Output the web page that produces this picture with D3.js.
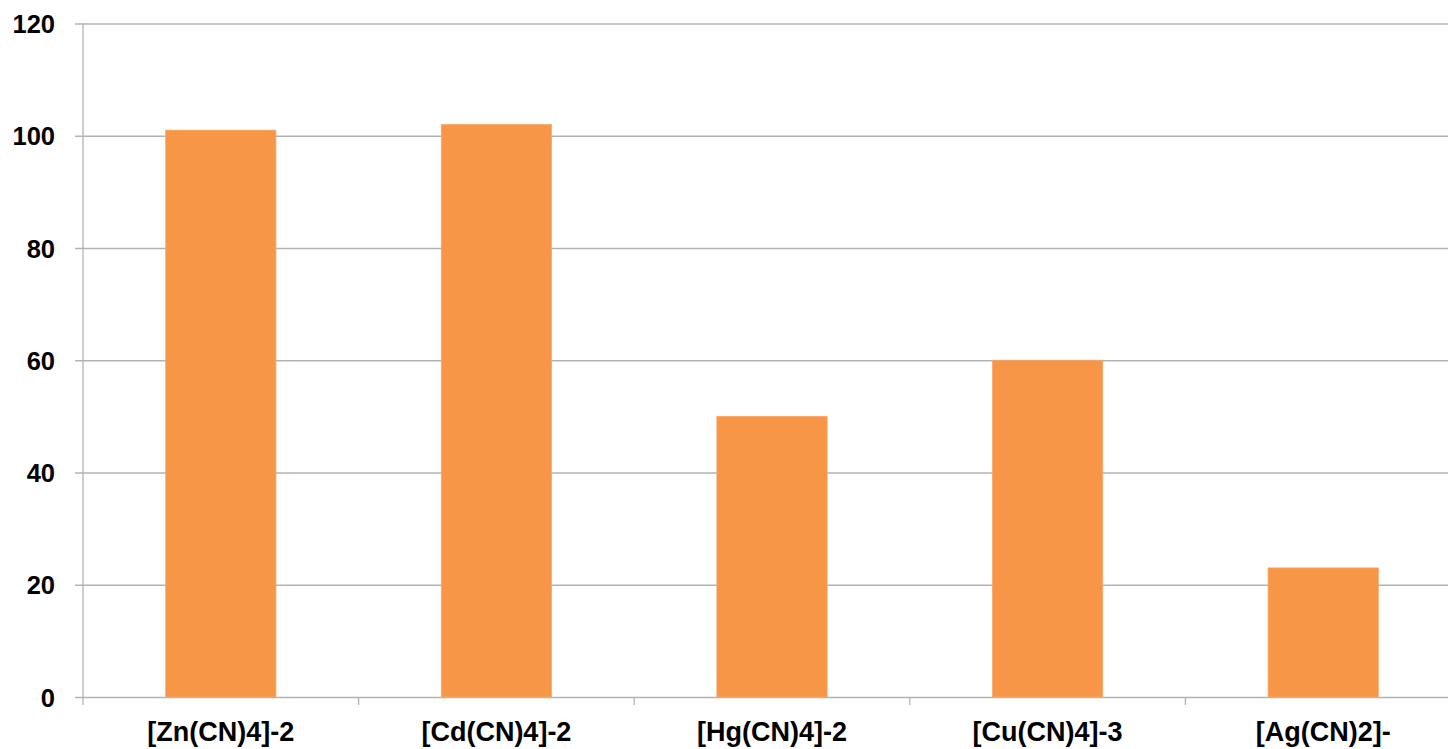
<!DOCTYPE html>
<html>
<head>
<meta charset="utf-8">
<script src="https://cdn.jsdelivr.net/npm/d3@7"></script>
<style>
  html, body { margin: 0; padding: 0; background: #fff; overflow: hidden; }
  svg { display: block; }
  text { font-family: "Liberation Sans", Arial, sans-serif; font-weight: bold; fill: #000; }
</style>
</head>
<body>
<svg id="chart" width="1448" height="749"></svg>
<script>
// Cyanide complexes and their values
const categories = ["[Zn(CN)4]-2", "[Cd(CN)4]-2", "[Hg(CN)4]-2", "[Cu(CN)4]-3", "[Ag(CN)2]-"];
const values = [101, 102, 50, 60, 23];
const yTicks = [0, 20, 40, 60, 80, 100, 120];

const svg = d3.select("#chart");
const plotLeft = 83, plotRight = 1461, plotTop = 23.5, plotBottom = 697;

const x = d3.scaleBand().domain(categories).range([plotLeft, plotRight]).paddingInner(0).paddingOuter(0);
const y = d3.scaleLinear().domain([0, 120]).range([plotBottom, plotTop]);

const gridColor = "#b3b3b3";

// horizontal gridlines with small outward ticks
const yAxis = d3.axisLeft(y).tickValues(yTicks).tickSize(-(plotRight - plotLeft)).tickPadding(0).tickFormat(d3.format("d"));
const gy = svg.append("g").attr("transform", `translate(${plotLeft},0)`).call(yAxis);
gy.select(".domain").remove();
gy.selectAll(".tick line").attr("stroke", gridColor).attr("stroke-width", 1.3).attr("x1", -8);
gy.selectAll(".tick text").attr("x", -28).attr("dy", "0.36em").style("font-size", "25.5px").attr("text-anchor", "end");

// bars
const barW = x.bandwidth() * 0.4;
svg.append("g").selectAll("rect").data(values).join("rect")
  .attr("x", (d, i) => x(categories[i]) + (x.bandwidth() - barW) / 2)
  .attr("y", d => y(d))
  .attr("width", barW)
  .attr("height", d => y(0) - y(d))
  .attr("fill", "#f79646")
  .attr("stroke", "#f9a76a")
  .attr("stroke-width", 0.8);

// vertical axis line
svg.append("line").attr("x1", plotLeft).attr("x2", plotLeft).attr("y1", plotTop).attr("y2", plotBottom + 8)
  .attr("stroke", gridColor).attr("stroke-width", 1.3);

// category axis: ticks between categories and labels
const gx = svg.append("g").attr("transform", `translate(0,${plotBottom})`);
gx.selectAll("line.sep").data(categories.slice(1)).join("line")
  .attr("class", "sep")
  .attr("x1", d => x(d)).attr("x2", d => x(d))
  .attr("y1", 0).attr("y2", 8)
  .attr("stroke", gridColor).attr("stroke-width", 1.3);
gx.selectAll("text").data(categories).join("text")
  .attr("x", d => x(d) + x.bandwidth() / 2)
  .attr("y", 43.5)
  .attr("text-anchor", "middle")
  .style("font-size", "27px")
  .text(d => d);
</script>
</body>
</html>
